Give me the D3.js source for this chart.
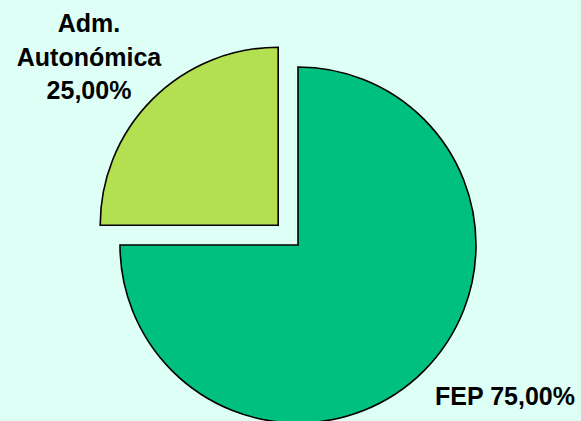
<!DOCTYPE html>
<html>
<head>
<meta charset="utf-8">
<script src="https://cdn.jsdelivr.net/npm/d3@7"></script>
<style>
  html, body { margin: 0; padding: 0; background: #ddfff5; }
  svg { display: block; }
  text { font-family: "Liberation Sans", Arial, sans-serif; font-weight: bold; font-size: 25px; fill: #000; }
</style>
</head>
<body>
<div id="chart"></div>
<script>
// Data
const categories = ["FEP", "Adm. Autonómica"];
const shares = [75, 25];
const colors = ["#00c080", "#b3e050"];
const exploded = [0, 28];

const width = 581, height = 421;
const cx = 298, cy = 245, radius = 178;

const svg = d3.select("#chart").append("svg")
  .attr("width", width)
  .attr("height", height);

const pie = d3.pie().sort(null).value((d) => d.value).startAngle(0).endAngle(2 * Math.PI);
const arc = d3.arc().innerRadius(0).outerRadius(radius);

const slices = pie(categories.map((c, i) => ({ name: c, value: shares[i], i })));

const g = svg.append("g").attr("transform", `translate(${cx},${cy})`);

g.selectAll("path")
  .data(slices)
  .join("path")
  .attr("d", arc)
  .attr("fill", (d) => colors[d.data.i])
  .attr("stroke", "#000")
  .attr("stroke-width", 1.6)
  .attr("stroke-linejoin", "miter")
  .attr("transform", (d) => {
    const a = (d.startAngle + d.endAngle) / 2;
    const off = exploded[d.data.i];
    return `translate(${Math.sin(a) * off},${-Math.cos(a) * off})`;
  });

// Labels
const fmt = (v) => v.toFixed(2).replace(".", ",") + "%";

svg.append("text")
  .attr("x", 575)
  .attr("y", 405)
  .attr("text-anchor", "end")
  .text(`${categories[0]} ${fmt(shares[0])}`);

const admLines = ["Adm.", "Autonómica", fmt(shares[1])];
svg.append("text")
  .attr("text-anchor", "middle")
  .selectAll("tspan")
  .data(admLines)
  .join("tspan")
  .attr("x", 89)
  .attr("y", (d, i) => 32 + i * 33.5)
  .text((d) => d);
</script>
</body>
</html>
